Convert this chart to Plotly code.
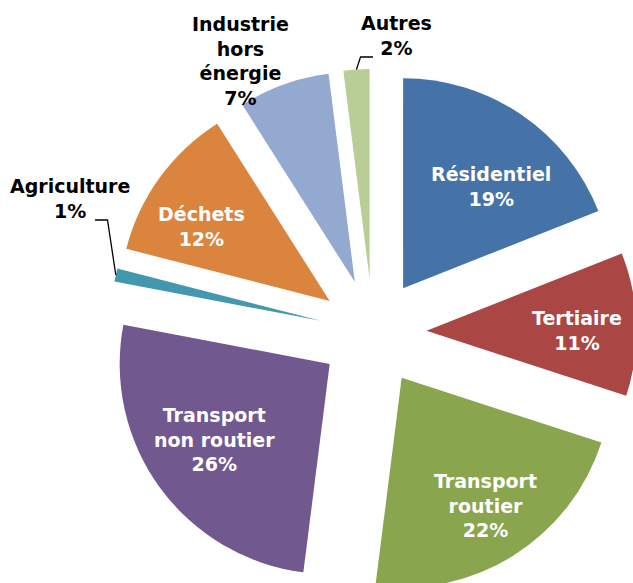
import math
import plotly.graph_objects as go

# ---------------- data ----------------
labels = ["Résidentiel", "Tertiaire", "Transport routier", "Transport non routier",
          "Agriculture", "Déchets", "Industrie hors énergie", "Autres"]
label_text = ["Résidentiel", "Tertiaire", "Transport<br>routier", "Transport<br>non routier",
              "Agriculture", "Déchets", "Industrie<br>hors<br>énergie", "Autres"]
values = [19, 11, 22, 26, 1, 12, 7, 2]

# ---------------- style ----------------
colors = ["#4572A7", "#AA4643", "#89A54E", "#71588F",
          "#4198AF", "#DB843D", "#93A9CF", "#B9CD96"]
label_colors = ["white", "white", "white", "white",
                "black", "white", "black", "black"]
# label centres on the page (px)
label_pos = [(491, 186), (577, 330), (485, 505), (214, 439),
             (70, 198), (201, 226), (240, 61), (396, 36)]
FONT = "DejaVu Sans"
FS = 19

OFF = 0                 # page body margin (removed below)
W, H = 700, 650         # figure larger than the window: the pie is cropped like the original
CX, CY = 373 - OFF, 332.5 - OFF
R_PIE = 210
PULL = 0.255
HALF = R_PIE * (1 + PULL)


def paper(x_page, y_page):
    return (x_page - OFF) / W, 1 - (y_page - OFF) / H


fig = go.Figure(go.Pie(
    labels=labels,
    values=values,
    sort=False,
    direction="clockwise",
    rotation=0,
    pull=PULL,
    marker=dict(colors=colors, line=dict(width=0)),
    textinfo="none",
    hoverinfo="label+percent",
    showlegend=False,
    domain=dict(x=[(CX - HALF) / W, (CX + HALF) / W],
                y=[(H - CY - HALF) / H, (H - CY + HALF) / H]),
))

# labels
total = sum(values)
annotations = []
for txt, v, col, (lx, ly) in zip(label_text, values, label_colors, label_pos):
    px, py = paper(lx, ly)
    annotations.append(dict(
        x=px, y=py, xref="paper", yref="paper",
        text=f"{txt}<br>{round(100 * v / total)}%",
        showarrow=False, xanchor="center", yanchor="middle", align="center",
        font=dict(family=FONT, size=FS, color=col, weight="bold"),
    ))


# leader lines from the outer edge of the small slices to their labels
def outer_point(idx):
    start = sum(values[:idx])
    mid = (start + values[idx] / 2) / total * 2 * math.pi
    d = R_PIE * (1 + PULL)
    return CX + OFF + d * math.sin(mid), CY + OFF - d * math.cos(mid)


shapes = []
leaders = {4: [(107.5, 220), (95, 220)], 7: [(360.5, 57), (373, 57)]}
for idx, pts in leaders.items():
    pts = [outer_point(idx)] + pts
    path = "M " + " L ".join(f"{paper(x, y)[0]},{paper(x, y)[1]}" for x, y in pts)
    shapes.append(dict(type="path", path=path, xref="paper", yref="paper",
                       line=dict(color="black", width=1.3)))

fig.update_layout(
    width=W, height=H,
    margin=dict(l=0, r=0, t=0, b=0),
    paper_bgcolor="white",
    plot_bgcolor="white",
    annotations=annotations,
    shapes=shapes,
)

fig.write_html(
    "out.html",
    post_script="document.body.style.margin='0';document.body.style.overflow='hidden';",
)
